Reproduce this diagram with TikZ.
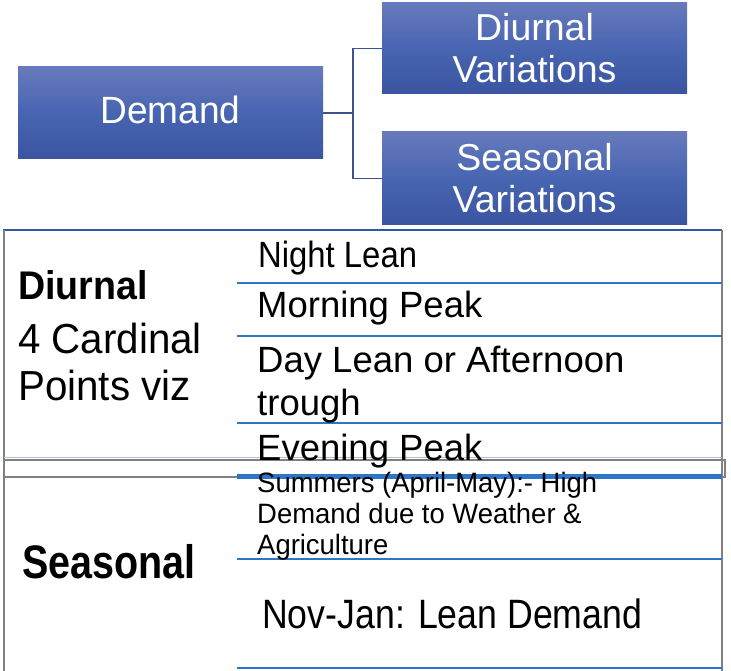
\documentclass[tikz,border=0pt]{standalone}
\usepackage{fontspec}
\setmainfont{Liberation Sans}
\usepackage{graphicx}
\definecolor{boxtop}{RGB}{103,122,187}
\definecolor{boxmid}{RGB}{72,101,178}
\definecolor{boxbot}{RGB}{58,84,160}
\definecolor{conn}{RGB}{62,82,140}
\definecolor{rowline}{RGB}{46,117,200}
\definecolor{topline}{RGB}{44,90,160}
\definecolor{bordergray}{RGB}{128,128,128}
\definecolor{paleline}{RGB}{170,195,220}
\newcommand{\hsq}[2]{\scalebox{#1}[1]{#2}}
\begin{document}
\begin{tikzpicture}[x=1pt,y=-1pt,
  bluebox/.style={rectangle, inner sep=0pt, minimum width=305pt, top color=boxtop, bottom color=boxbot, middle color=boxmid, text=white, align=center, font=\fontsize{37.5}{42}\selectfont},
  conline/.style={draw=conn, line width=1.5pt},
  cell/.style={anchor=base west, inner sep=0pt, text=black},
  itemfont/.style={font=\fontsize{36.5}{43}\selectfont},
  rowrule/.style={draw=rowline, line width=2pt},
  frame/.style={draw=bordergray, line width=2pt}]
\useasboundingbox (0,0) rectangle (731,671);
% top diagram
\node[bluebox, minimum height=92pt, text depth=6pt, font=\fontsize{38}{42}\selectfont] (demand) at (170.5,113) {\hsq{0.975}{Demand}};
\node[bluebox, minimum height=91pt] (diu) at (534.5,48.5) {Diurnal\\Variations};
\node[bluebox, minimum height=93pt] (sea) at (534.5,178.5) {Seasonal\\Variations};
\draw[conline] (demand.east) -- ++(30,0) |- (diu.west);
\draw[conline] (demand.east) -- ++(30,0) |- (sea.west);
% table frame and rules
\draw[draw=topline, line width=2.5pt] (3,230) -- (722,230);
\draw[frame] (4,230) -- (4,671);
\draw[frame] (722,230) -- (722,671);
\draw[rowrule] (237,283) -- (722,283);
\draw[rowrule] (237,336) -- (722,336);
\draw[rowrule] (237,423) -- (722,423);
\draw[draw=paleline, line width=1.5pt] (4,457.5) -- (722,457.5);
\draw[frame] (4,460) rectangle (725,477);
\draw[draw=rowline, line width=5pt] (237,476.5) -- (722,476.5);
\draw[rowrule] (237,559) -- (722,559);
\draw[rowrule] (237,668) -- (722,668);
% diurnal texts
\node[cell, font=\bfseries\fontsize{40}{44}\selectfont] (dtitle) at (18,299) {\hsq{0.94}{Diurnal}};
\node[cell, font=\fontsize{42}{47}\selectfont] (dcard) at (18,353) {\hsq{0.96}{\begin{tabular}[t]{@{}l@{}}4 Cardinal\\Points viz\end{tabular}}};
\node[cell, itemfont] (n1) at (258,268) {\hsq{0.9}{Night Lean}};
\node[cell, itemfont] (n2) at (257,317) {Morning Peak};
\node[cell, itemfont] (n3) at (257,372) {\begin{tabular}[t]{@{}l@{}}Day Lean or Afternoon\\trough\end{tabular}};
\node[cell, itemfont] (n4) at (257,460) {Evening Peak};
% seasonal texts
\node[cell, font=\bfseries\fontsize{47}{50}\selectfont] (stitle) at (22,578) {\hsq{0.84}{Seasonal}};
\node[cell, font=\fontsize{28}{31}\selectfont] (s1) at (257,492) {\hsq{0.98}{\begin{tabular}[t]{@{}l@{}}Summers (April-May):- High\\Demand due to Weather \&\\Agriculture\end{tabular}}};
\node[cell, font=\fontsize{41}{45}\selectfont] (s2) at (262,628) {\hsq{0.87}{Nov-Jan: Lean Demand}};
\end{tikzpicture}
\end{document}
